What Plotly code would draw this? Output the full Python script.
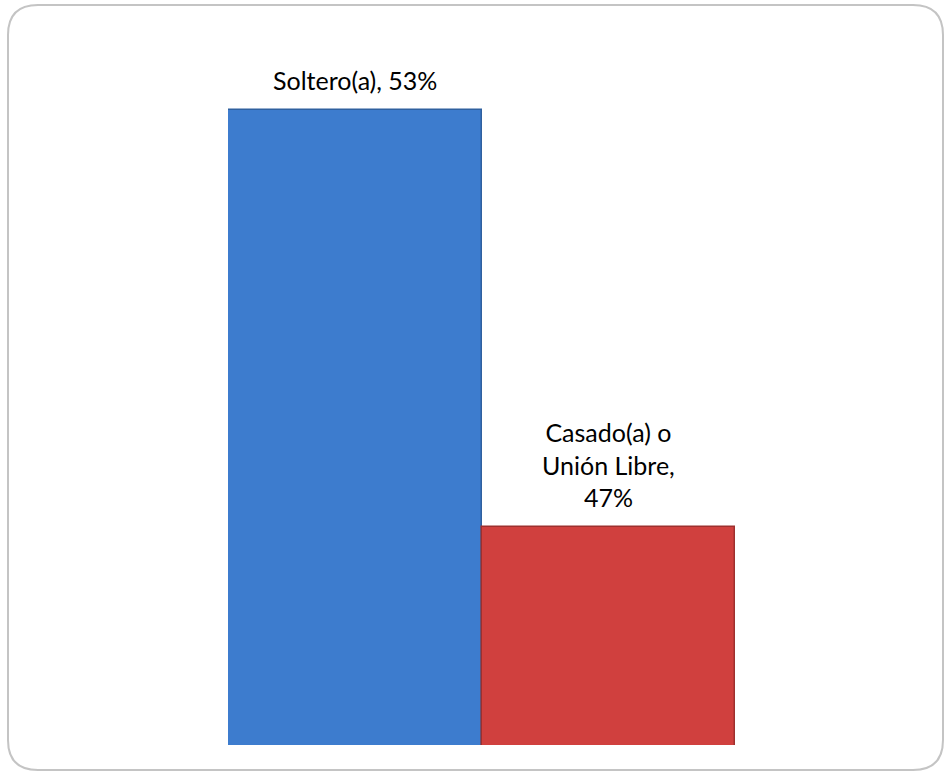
import plotly.graph_objects as go

categories = ["Soltero(a)", "Casado(a) o Unión Libre"]
values = [0.53, 0.47]
labels = ["Soltero(a), 53%", "Casado(a) o<br>Unión Libre,<br>47%"]
colors = ["#3d7cce", "#d0403e"]
line_colors = ["#2f609f", "#9e302e"]

W, H = 945, 772
L, R, T, B = 228, 210, 40, 27
pw, ph = W - L - R, H - T - B

fig = go.Figure()
fig.add_trace(go.Bar(
    x=categories, y=values,
    marker=dict(color=colors, line=dict(color=line_colors, width=1.5)),
    hoverinfo="skip",
))

for c, v, t in zip(categories, values, labels):
    fig.add_annotation(x=c, y=v, text=t, showarrow=False, yanchor="bottom",
                       yshift=13, align="center",
                       font=dict(family="Lato, Liberation Sans, sans-serif", size=25, color="#000000"))

def px2paper(x, y):
    return (x - L) / pw, (H - B - y) / ph

x0, y0, x1, y1 = 8, 5, 943, 770
r = 30
def P(x, y):
    a, b = px2paper(x, y)
    return f"{a:.5f},{b:.5f}"
path = (f"M {P(x0, y0 + r)} Q {P(x0, y0)} {P(x0 + r, y0)} L {P(x1 - r, y0)} "
        f"Q {P(x1, y0)} {P(x1, y0 + r)} L {P(x1, y1 - r)} Q {P(x1, y1)} {P(x1 - r, y1)} "
        f"L {P(x0 + r, y1)} Q {P(x0, y1)} {P(x0, y1 - r)} Z")

fig.add_shape(type="path", xref="paper", yref="paper", path=path,
              line=dict(color="#c4c4c4", width=2), layer="below")

fig.update_layout(
    width=W, height=H,
    margin=dict(l=L, r=R, t=T, b=B),
    paper_bgcolor="white", plot_bgcolor="white",
    bargap=0, showlegend=False,
    xaxis=dict(visible=False, range=[-0.5, 1.5]),
    yaxis=dict(visible=False, range=[0.4387, 0.54]),
)
fig.write_html("out.html", config={"displayModeBar": False},
               post_script="document.body.style.margin='0';")
